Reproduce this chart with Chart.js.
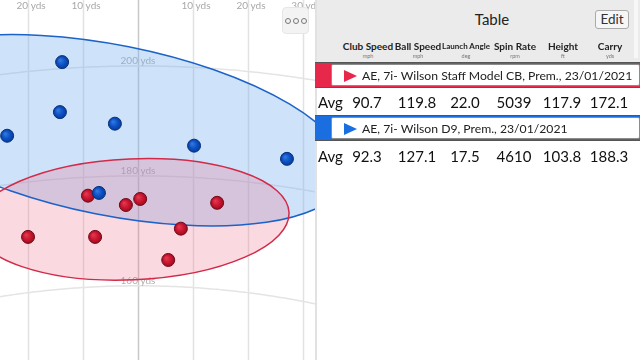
<!DOCTYPE html>
<html>
<head>
<meta charset="utf-8">
<script src="https://cdn.jsdelivr.net/npm/chart.js@4"></script>
<style>
  body { margin: 0; width: 640px; height: 360px; overflow: hidden; background: #fff; font-family: Lato, "Noto Sans", sans-serif; }
  #chartBox { position: absolute; left: 0; top: 0; width: 315px; height: 360px; }
  .more { position: absolute; left: 282px; top: 7px; width: 25px; height: 25px; background: #f3f3f3; border: 1px solid #e6e6e6; border-radius: 4px; display: flex; align-items: center; justify-content: center; gap: 2px; }
  .more span { width: 4px; height: 4px; border: 1px solid #777; border-radius: 50%; }
  #panel { position: absolute; left: 315px; top: 0; width: 325px; height: 360px; background: #fff; }
  #panel .edge { position: absolute; left: 0; top: 0; width: 2px; height: 360px; background: #e2e2e2; }
  .head { position: absolute; left: 0; top: 0; width: 325px; height: 62px; background: #ebebeb; }
  .title { position: absolute; left: 137px; top: 10px; width: 80px; text-align: center; font-size: 15px; color: #222; }
  .edit { position: absolute; left: 280px; top: 10px; width: 32px; height: 17px; line-height: 17px; text-align: center; font-size: 13.5px; color: #333; background: #f6f6f6; border: 1px solid #aaa; border-radius: 3px; }
  .strip { position: absolute; left: 319px; top: 0; width: 4px; height: 58px; background: #f7f7f7; }
  .col { position: absolute; width: 70px; margin-left: -35px; text-align: center; white-space: nowrap; }
  .col b { display: block; font-size: 10px; color: #222; line-height: 11px; }
  .col b.small { font-size: 8px; }
  .col i { display: block; font-style: normal; font-size: 5.5px; color: #777; line-height: 8px; }
  .band { position: absolute; left: 0; width: 325px; height: 24px; border-top: 1.5px solid #555; border-bottom: 1.5px solid #555; }
  .band .box { position: absolute; left: 16px; right: 0; top: 1px; bottom: 1px; background: #fff; border: 1px solid #8c8c8c; border-radius: 2px; }
  .band .tri { position: absolute; left: 12px; top: 4.5px; width: 0; height: 0; border-top: 6.5px solid transparent; border-bottom: 6.5px solid transparent; border-left: 13px solid; }
  .band .txt { position: absolute; left: 30px; top: 2px; font-size: 12.2px; color: #222; white-space: nowrap; line-height: 18px; }
  .avg { position: absolute; font-size: 15px; color: #111; line-height: 18px; white-space: nowrap; }
  .val { margin-left: -30px; width: 60px; text-align: center; }
</style>
</head>
<body>
<div id="chartBox">
  <canvas id="shots" width="315" height="360"></canvas>
  <div class="more"><span></span><span></span><span></span></div>
</div>
<div id="panel">
  <div class="head"><div class="title">Table</div><div class="edit">Edit</div><div class="strip"></div></div>
  <div class="edge"></div>
</div>
<script>
// shots, lateral (yds, right +) and carry (yds)
const redLateral = [-9.1, -2.2, 0.4, 14.4, 7.8, -20.0, -7.8, 5.5];
const redCarry = [176.4, 174.7, 175.8, 175.1, 170.4, 168.9, 168.9, 164.7];
const blueLateral = [-13.8, -14.2, -4.2, -23.8, 10.2, 27.1, -7.1];
const blueCarry = [200.7, 191.6, 189.5, 187.3, 185.5, 183.1, 176.9];

// dispersion ellipses: [red, blue]
const ellipseLateral = [-1.1, -4.7];
const ellipseCarry = [172.1, 188.3];
const ellipseHalfWidth = [28.6, 43.5];
const ellipseHalfDepth = [11.0, 15.5];
const ellipseAngle = [2.5, -11.25];

const lateralTicks = [-30, -20, -10, 0, 10, 20, 30, 40];
const distanceArcs = [160, 180, 200];

// table
const columns = ['Club Speed', 'Ball Speed', 'Launch Angle', 'Spin Rate', 'Height', 'Carry'];
const units = ['mph', 'mph', 'deg', 'rpm', 'ft', 'yds'];
const shotLabels = ['AE, 7i- Wilson Staff Model CB, Prem., 23/01/2021', 'AE, 7i- Wilson D9, Prem., 23/01/2021'];
const redAvg = ['90.7', '119.8', '22.0', '5039', '117.9', '172.1'];
const blueAvg = ['92.3', '127.1', '17.5', '4610', '103.8', '188.3'];

const colors = ['#e8284a', '#1a6ee0'];
const ellipseFill = ['rgba(240,110,135,0.26)', 'rgba(120,178,240,0.36)'];
const ellipseLine = ['#d22a48', '#1b62c9'];

// --- table ---
const panel = document.getElementById('panel');
const colX = [53, 103, 151, 200, 248, 295];
columns.forEach((c, i) => {
  const d = document.createElement('div');
  d.className = 'col';
  d.style.left = colX[i] + 'px';
  d.style.top = '41px';
  d.innerHTML = `<b class="${c.length > 10 ? 'small' : ''}">${c}</b><i>${units[i]}</i>`;
  panel.appendChild(d);
});
[[redAvg, 62, 91], [blueAvg, 115, 145]].forEach(([vals, bandTop, avgTop], k) => {
  const band = document.createElement('div');
  band.className = 'band';
  band.style.top = bandTop + 'px';
  band.style.background = colors[k];
  band.innerHTML = `<div class="box"><div class="tri" style="border-left-color:${colors[k]}"></div><div class="txt">${shotLabels[k]}</div></div>`;
  panel.appendChild(band);
  const a = document.createElement('div');
  a.className = 'avg';
  a.style.left = '3px';
  a.style.top = (avgTop + 2) + 'px';
  a.textContent = 'Avg';
  panel.appendChild(a);
  vals.forEach((v, i) => {
    const e = document.createElement('div');
    e.className = 'avg val';
    e.style.left = (colX[i] - 1) + 'px';
    e.style.top = (avgTop + 2) + 'px';
    e.textContent = v;
    panel.appendChild(e);
  });
});

// --- chart ---
const pts = (xs, ys) => xs.map((x, i) => ({ x: x, y: ys[i] }));

// shaded ball look
function ball(light, base, dark) {
  return c => {
    const s = c.chart.scales;
    if (!c.raw || !s.x || !s.y) return base;
    const px = s.x.getPixelForValue(c.raw.x), py = s.y.getPixelForValue(c.raw.y);
    if (!isFinite(px) || !isFinite(py)) return base;
    const g = c.chart.ctx.createRadialGradient(px - 2, py - 2, 0.5, px, py, 7);
    g.addColorStop(0, light);
    g.addColorStop(0.55, base);
    g.addColorStop(1, dark);
    return g;
  };
}

const backdrop = {
  id: 'backdrop',
  beforeDatasetsDraw(chart) {
    const { ctx, chartArea, scales: { x, y } } = chart;
    ctx.save();
    lateralTicks.forEach(t => {
      const px = Math.round(x.getPixelForValue(t)) + 0.5;
      ctx.strokeStyle = t === 0 ? '#c8c8c8' : '#e2e2e2';
      ctx.lineWidth = 1.5;
      ctx.beginPath();
      ctx.moveTo(px, chartArea.top);
      ctx.lineTo(px, chartArea.bottom);
      ctx.stroke();
    });
    distanceArcs.forEach(d => {
      ctx.strokeStyle = '#e4e4e4';
      ctx.lineWidth = 1.5;
      ctx.beginPath();
      for (let lx = x.min; lx <= x.max + 0.5; lx += 0.5) {
        const px = x.getPixelForValue(lx), py = y.getPixelForValue(Math.sqrt(d * d - lx * lx));
        lx === x.min ? ctx.moveTo(px, py) : ctx.lineTo(px, py);
      }
      ctx.stroke();
      ctx.fillStyle = '#aeaeae';
      ctx.font = '10px Lato';
      ctx.textAlign = 'center';
      ctx.textBaseline = 'middle';
      ctx.fillText(d + ' yds', x.getPixelForValue(0), y.getPixelForValue(d) - 5);
    });
    ctx.fillStyle = '#a8a8a8';
    ctx.font = '10px Lato';
    ctx.textAlign = 'center';
    ctx.textBaseline = 'middle';
    lateralTicks.forEach(t => {
      if (t !== 0) ctx.fillText(Math.abs(t) + ' yds', x.getPixelForValue(t) + 3, 6);
    });
    // ellipses
    const paths = ellipseLateral.map((cx, i) => {
      const px = x.getPixelForValue(cx), py = y.getPixelForValue(ellipseCarry[i]);
      const rx = x.getPixelForValue(cx + ellipseHalfWidth[i]) - px;
      const ry = py - y.getPixelForValue(ellipseCarry[i] + ellipseHalfDepth[i]);
      const p = new Path2D();
      p.ellipse(px, py, rx, ry, -ellipseAngle[i] * Math.PI / 180, 0, Math.PI * 2);
      return p;
    });
    [1, 0].forEach(i => { ctx.fillStyle = ellipseFill[i]; ctx.fill(paths[i]); });
    [1, 0].forEach(i => { ctx.strokeStyle = ellipseLine[i]; ctx.lineWidth = 1.5; ctx.stroke(paths[i]); });
    ctx.restore();
  }
};

new Chart(document.getElementById('shots'), {
  type: 'scatter',
  data: {
    datasets: [
      { data: pts(blueLateral, blueCarry), backgroundColor: ball('#2f78e0', '#0c4fc2', '#073a94'), borderColor: '#08307a', borderWidth: 1, pointRadius: 6.5 },
      { data: pts(redLateral, redCarry), backgroundColor: ball('#e2384f', '#c8142e', '#930c1f'), borderColor: '#700a18', borderWidth: 1, pointRadius: 6.5 }
    ]
  },
  options: {
    responsive: false,
    animation: false,
    layout: { padding: 0, autoPadding: false },
    plugins: { legend: { display: false }, tooltip: { enabled: false } },
    scales: {
      x: { type: 'linear', min: -25.1, max: 32.2, display: false },
      y: { type: 'linear', min: 146.5, max: 212, display: false }
    }
  },
  plugins: [backdrop]
});
</script>
</body>
</html>
